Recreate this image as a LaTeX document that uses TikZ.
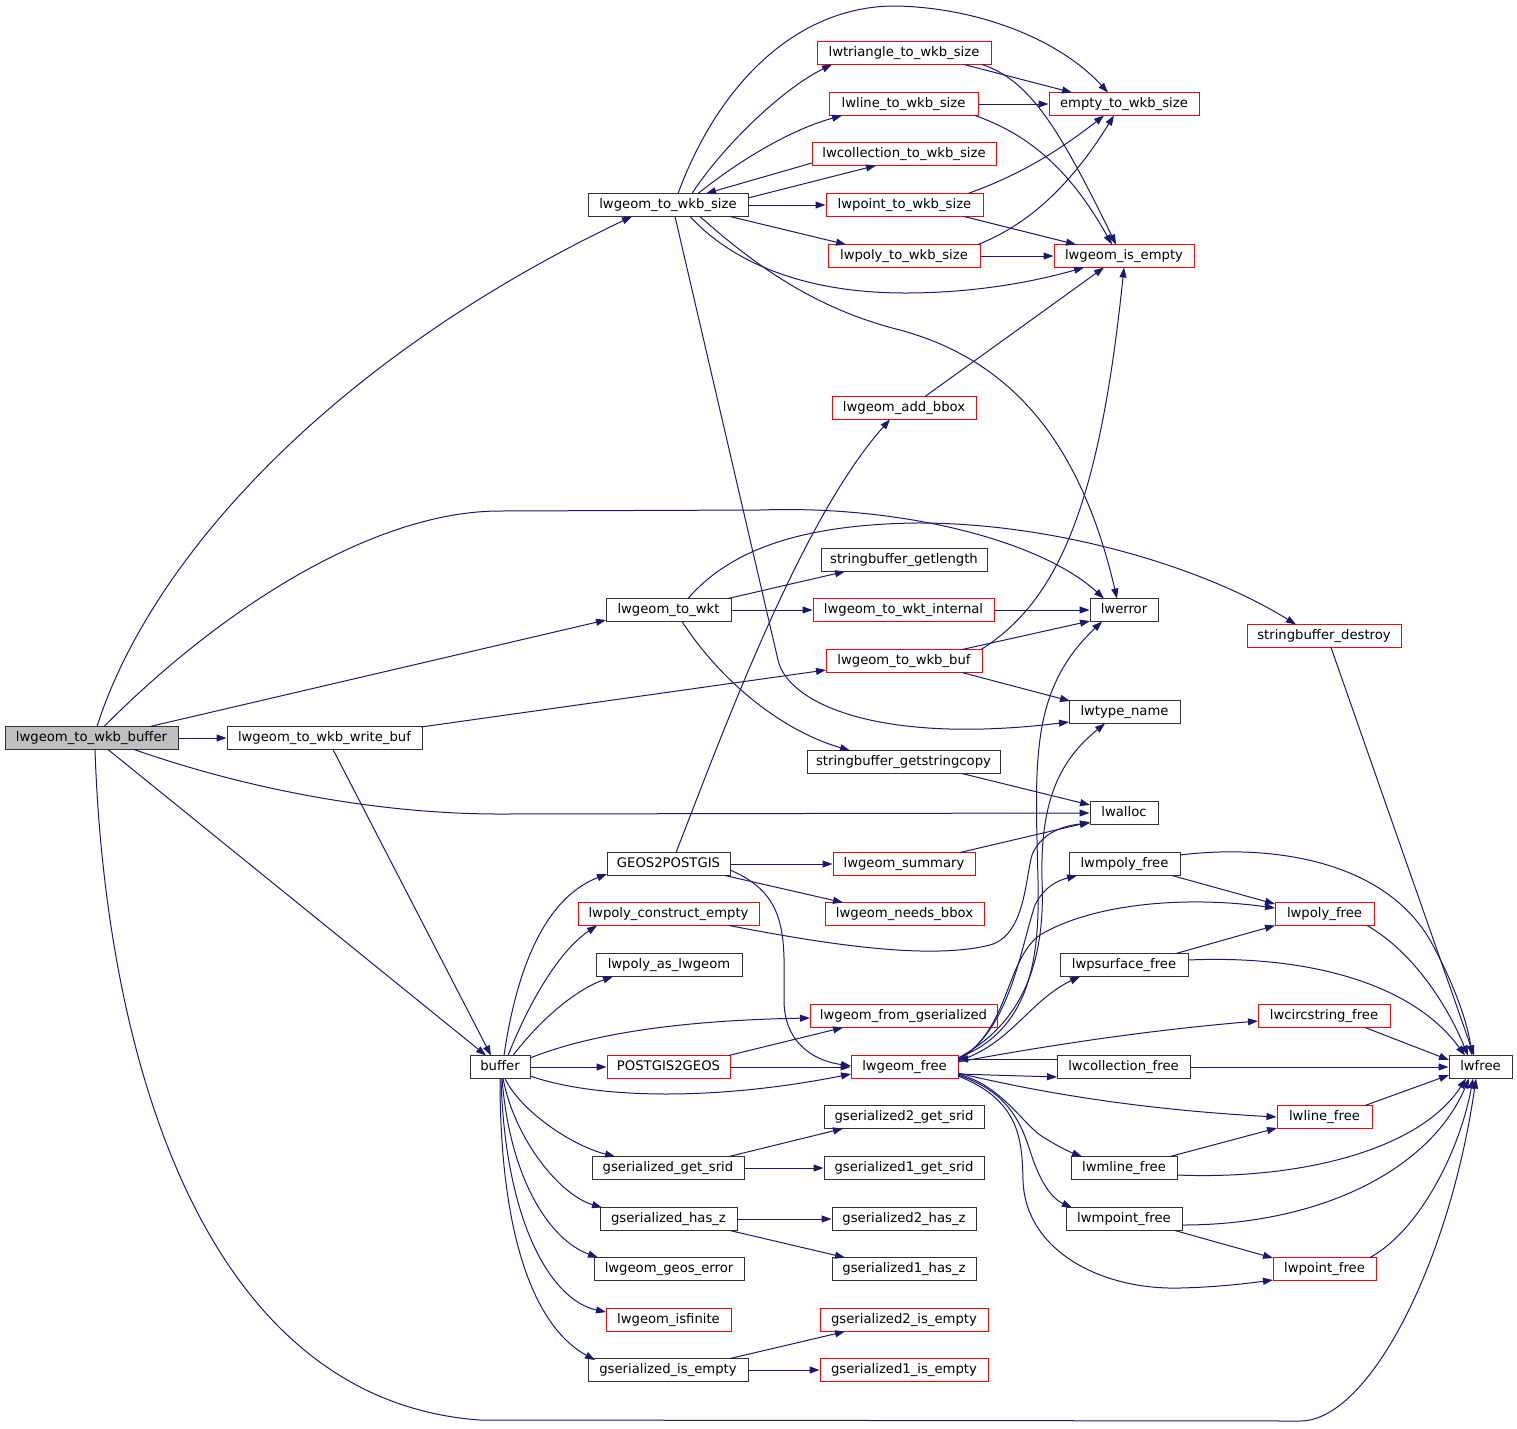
\documentclass[tikz,border=0pt]{standalone}
\usepackage{fontspec}
\setmainfont{DejaVu Sans}
\usetikzlibrary{arrows.meta,calc}
\definecolor{edgec}{HTML}{191970}
\definecolor{nodegray}{HTML}{BFBFBF}
\begin{document}
\begin{tikzpicture}[x=1pt,y=-1pt,
 nd/.style={draw=black!80, fill=white, line width=1pt, minimum height=23pt, inner sep=0pt, text height=10pt, text depth=3pt, font=\fontsize{13.2}{15}\selectfont},
 rd/.style={nd, draw=red},
 gd/.style={nd, fill=nodegray},
 ed/.style={draw=edgec, line width=1pt, -{Triangle[length=10pt,width=7pt]}}]
\useasboundingbox (0,0) rectangle (1517,1428);
% nodes
\node[gd,minimum width=173pt] (buf0) at (91.5,738) {lwgeom\_to\_wkb\_buffer};
\node[nd,minimum width=195pt] (wbuf) at (324.5,738) {lwgeom\_to\_wkb\_write\_buf};
\node[nd,minimum width=160pt] (wsize) at (668,205) {lwgeom\_to\_wkb\_size};
\node[nd,minimum width=125pt] (wkt) at (668.5,610) {lwgeom\_to\_wkt};
\node[nd,minimum width=60pt] (bufr) at (500,1067) {buffer};
\node[rd,minimum width=174pt] (tri) at (904,53) {lwtriangle\_to\_wkb\_size};
\node[rd,minimum width=149pt] (lline) at (903.5,104) {lwline\_to\_wkb\_size};
\node[rd,minimum width=184pt] (coll) at (904,154) {lwcollection\_to\_wkb\_size};
\node[rd,minimum width=157pt] (pt) at (904.5,205) {lwpoint\_to\_wkb\_size};
\node[rd,minimum width=152pt] (poly) at (904,256) {lwpoly\_to\_wkb\_size};
\node[rd,minimum width=150pt] (empty) at (1124,104) {empty\_to\_wkb\_size};
\node[rd,minimum width=140pt] (isempty) at (1124,256) {lwgeom\_is\_empty};
\node[rd,minimum width=144pt] (addbbox) at (904,408) {lwgeom\_add\_bbox};
\node[nd,minimum width=166pt] (sbgl) at (904,560) {stringbuffer\_getlength};
\node[rd,minimum width=181pt] (wktint) at (903.5,610) {lwgeom\_to\_wkt\_internal};
\node[rd,minimum width=156pt] (wkbbuf) at (904,661) {lwgeom\_to\_wkb\_buf};
\node[nd,minimum width=68pt] (lwerror) at (1124,610) {lwerror};
\node[rd,minimum width=154pt] (sbdestroy) at (1324,636) {stringbuffer\_destroy};
\node[nd,minimum width=111pt] (tname) at (1124.5,712) {lwtype\_name};
\node[nd,minimum width=193pt] (sbcopy) at (903.5,762) {stringbuffer\_getstringcopy};
\node[nd,minimum width=68pt] (lwalloc) at (1124,813) {lwalloc};
\node[nd,minimum width=123pt] (geos2pg) at (668.5,864) {GEOS2POSTGIS};
\node[rd,minimum width=142pt] (summary) at (904,864) {lwgeom\_summary};
\node[rd,minimum width=181pt] (pce) at (668.5,914) {lwpoly\_construct\_empty};
\node[rd,minimum width=159pt] (needsbbox) at (904.5,914) {lwgeom\_needs\_bbox};
\node[nd,minimum width=146pt] (polyas) at (669,965) {lwpoly\_as\_lwgeom};
\node[rd,minimum width=187pt] (fromgser) at (903.5,1016) {lwgeom\_from\_gserialized};
\node[rd,minimum width=123pt] (pg2geos) at (668.5,1067) {POSTGIS2GEOS};
\node[rd,minimum width=107pt] (gfree) at (904.5,1067) {lwgeom\_free};
\node[nd,minimum width=160pt] (g2srid) at (904,1117) {gserialized2\_get\_srid};
\node[nd,minimum width=152pt] (gsrid) at (668,1168) {gserialized\_get\_srid};
\node[nd,minimum width=160pt] (g1srid) at (904,1168) {gserialized1\_get\_srid};
\node[nd,minimum width=137pt] (ghasz) at (668.5,1219) {gserialized\_has\_z};
\node[nd,minimum width=144pt] (g2hasz) at (904,1219) {gserialized2\_has\_z};
\node[nd,minimum width=144pt] (g1hasz) at (904,1269) {gserialized1\_has\_z};
\node[nd,minimum width=150pt] (geoserr) at (669,1269) {lwgeom\_geos\_error};
\node[rd,minimum width=125pt] (isfinite) at (668.5,1320) {lwgeom\_isfinite};
\node[nd,minimum width=160pt] (gisempty) at (668,1370) {gserialized\_is\_empty};
\node[rd,minimum width=168pt] (g2isempty) at (904,1320) {gserialized2\_is\_empty};
\node[rd,minimum width=168pt] (g1isempty) at (904,1370) {gserialized1\_is\_empty};
\node[nd,minimum width=111pt] (mpolyfree) at (1124.5,864) {lwmpoly\_free};
\node[rd,minimum width=99pt] (polyfree) at (1324.5,914) {lwpoly\_free};
\node[nd,minimum width=128pt] (psurffree) at (1124,965) {lwpsurface\_free};
\node[rd,minimum width=132pt] (circfree) at (1324,1016) {lwcircstring\_free};
\node[nd,minimum width=133pt] (collfree) at (1123.5,1067) {lwcollection\_free};
\node[nd,minimum width=63pt] (lwfree) at (1480.5,1067) {lwfree};
\node[rd,minimum width=95pt] (linefree) at (1324.5,1117) {lwline\_free};
\node[nd,minimum width=106pt] (mlinefree) at (1124,1168) {lwmline\_free};
\node[nd,minimum width=116pt] (mpointfree) at (1124,1219) {lwmpoint\_free};
\node[rd,minimum width=103pt] (pointfree) at (1324.5,1269) {lwpoint\_free};
% edges from lwgeom_to_wkb_buffer
\draw[ed] ($(buf0)+(5.5,-11.5)$) .. controls (150,560) and (330,360) .. ($(wsize)+(-36,11.5)$);
\draw[ed] ($(buf0)+(12.5,-11.5)$) .. controls (230,600) and (380,511) .. (500,511) -- (760,510) .. controls (900,505) and (1040,540) .. ($(lwerror)+(-20,-11.5)$);
\draw[ed] ($(buf0)+(58.5,-11.5)$) -- ($(wkt)+(-62.5,10)$);
\draw[ed] (buf0.east) -- (wbuf.west);
\draw[ed] ($(buf0)+(42.5,11.5)$) .. controls (250,790) and (380,814) .. (500,814) -- (lwalloc.west);
\draw[ed] ($(buf0)+(16.5,11.5)$) -- ($(bufr)+(-14,-11.5)$);
\draw[ed] ($(buf0)+(3.5,11.5)$) .. controls (105,1050) and (200,1400) .. (480,1420) -- (1300,1421) .. controls (1370,1421) and (1450,1260) .. ($(lwfree)+(-4.5,11.5)$);
% lwgeom_to_wkb_write_buf
\draw[ed] ($(wbuf)+(96.5,-11)$) -- ($(wkbbuf)+(-78,9)$);
\draw[ed] ($(wbuf)+(8.5,11.5)$) -- ($(bufr)+(-9,-11.5)$);
% lwgeom_to_wkb_size
\draw[ed] ($(wsize)+(24,-11.5)$) .. controls (720,150) and (780,90) .. ($(tri)+(-72,11.5)$);
\draw[ed] ($(wsize)+(10,-11.5)$) .. controls (720,80) and (800,5) .. (897,6) .. controls (980,8) and (1060,40) .. ($(empty)+(-16,-11.5)$);
\draw[ed] ($(wsize)+(30,-11.5)$) .. controls (740,160) and (790,130) .. ($(lline)+(-61.5,11.5)$);
\draw[ed] ($(coll)+(-92,9)$) -- ($(wsize)+(38,-11.5)$);
\draw[ed] ($(wsize)+(80,-7)$) -- ($(coll)+(-28,11.5)$);
\draw[ed] (wsize.east) -- (pt.west);
\draw[ed] ($(wsize)+(62,11.5)$) -- ($(poly)+(-58,-11.5)$);
\draw[ed] ($(wsize)+(22,11.5)$) .. controls (730,260) and (800,293) .. (905,293) .. controls (980,293) and (1040,280) .. ($(isempty)+(-40,11.5)$);
\draw[ed] ($(wsize)+(32,11.5)$) .. controls (760,270) and (820,310) .. (900,330) .. controls (1010,360) and (1080,440) .. ($(lwerror)+(-7,-11.5)$);
\draw[ed] ($(wsize)+(7,11.5)$) -- (778,660) .. controls (788,704) and (880,745) .. ($(tname)+(-55.5,10)$);
% size helpers
\draw[ed] ($(tri)+(60,11.5)$) -- ($(empty)+(-52,-11.5)$);
\draw[ed] ($(tri)+(78,11.5)$) .. controls (1030,80) and (1060,130) .. ($(isempty)+(-8,-11.5)$);
\draw[ed] (lline.east) -- (empty.west);
\draw[ed] ($(lline)+(71.5,11.5)$) .. controls (1030,135) and (1070,170) .. ($(isempty)+(-12,-11.5)$);
\draw[ed] ($(pt)+(63.5,-11.5)$) .. controls (1020,175) and (1060,150) .. ($(empty)+(-20,11.5)$);
\draw[ed] ($(pt)+(59.5,11.5)$) -- ($(isempty)+(-48,-11.5)$);
\draw[ed] ($(poly)+(74,-11.5)$) .. controls (1040,220) and (1080,170) .. ($(empty)+(-10,11.5)$);
\draw[ed] (poly.east) -- (isempty.west);
\draw[ed] ($(addbbox)+(21,-11.5)$) -- ($(isempty)+(-20,11.5)$);
% wkb buf
\draw[ed] ($(wkbbuf)+(77,-11.5)$) .. controls (1060,600) and (1100,500) .. ($(isempty)+(0,11.5)$);
\draw[ed] ($(wkbbuf)+(58,-11.5)$) -- ($(lwerror)+(-34,11)$);
\draw[ed] ($(wkbbuf)+(58,11.5)$) -- ($(tname)+(-54.5,-11)$);
\draw[ed] (wktint.east) -- (lwerror.west);
% lwgeom_to_wkt
\draw[ed] ($(wkt)+(59.5,-11.5)$) -- ($(sbgl)+(-59,11.5)$);
\draw[ed] (wkt.east) -- (wktint.west);
\draw[ed] ($(wkt)+(19.5,-11.5)$) .. controls (730,550) and (800,525) .. (914,523) .. controls (1050,522) and (1200,565) .. ($(sbdestroy)+(-28,-11.5)$);
\draw[ed] ($(wkt)+(13.5,11.5)$) .. controls (720,680) and (780,730) .. ($(sbcopy)+(-53.5,-11.5)$);
\draw[ed] ($(sbcopy)+(58.5,11.5)$) -- ($(lwalloc)+(-34,-8)$);
\draw[ed] ($(sbdestroy)+(7,11.5)$) -- ($(lwfree)+(-6.5,-11.5)$);
% GEOS2POSTGIS etc
\draw[ed] ($(summary)+(56,-11.5)$) -- ($(lwalloc)+(-34,9)$);
\draw[ed] ($(pce)+(60.5,11.5)$) .. controls (830,945) and (930,960) .. (990,945) .. controls (1025,935) and (1025,880) .. (1032,855) .. controls (1040,835) and (1060,826) .. ($(lwalloc)+(-34,10)$);
\draw[ed] ($(geos2pg)+(7.5,-11.5)$) .. controls (720,740) and (800,520) .. ($(addbbox)+(-14,11.5)$);
\draw[ed] (geos2pg.east) -- (summary.west);
\draw[ed] ($(geos2pg)+(56.5,11.5)$) -- ($(needsbbox)+(-61.5,-11.5)$);
\draw[ed] ($(geos2pg)+(61.5,6)$) .. controls (790,895) and (784,940) .. (784,1000) .. controls (784,1040) and (810,1060) .. ($(gfree)+(-53.5,-1)$);
% buffer
\draw[ed] ($(bufr)+(4,-11.5)$) .. controls (515,980) and (540,900) .. ($(geos2pg)+(-61.5,10)$);
\draw[ed] ($(bufr)+(8,-11.5)$) .. controls (530,1000) and (560,950) .. ($(pce)+(-71.5,11.5)$);
\draw[ed] ($(bufr)+(13,-11.5)$) .. controls (540,1020) and (575,990) .. ($(polyas)+(-56,11.5)$);
\draw[ed] ($(bufr)+(30,-9)$) .. controls (600,1030) and (700,1020) .. ($(fromgser)+(-93.5,2)$);
\draw[ed] (bufr.east) -- (pg2geos.west);
\draw[ed] ($(bufr)+(30,9)$) .. controls (600,1100) and (720,1100) .. ($(gfree)+(-53.5,7)$);
\draw[ed] ($(pg2geos)+(60,-11.5)$) -- ($(fromgser)+(-60.5,11.5)$);
\draw[ed] (pg2geos.east) -- (gfree.west);
\draw[ed] ($(bufr)+(5,11.5)$) .. controls (520,1110) and (570,1145) .. ($(gsrid)+(-53,-11.5)$);
\draw[ed] ($(bufr)+(3,11.5)$) .. controls (515,1140) and (560,1195) .. ($(ghasz)+(-66.5,-11.5)$);
\draw[ed] ($(bufr)+(2,11.5)$) .. controls (510,1180) and (550,1240) .. ($(geoserr)+(-71,-11.5)$);
\draw[ed] ($(bufr)+(1,11.5)$) .. controls (505,1220) and (550,1300) .. ($(isfinite)+(-62.5,-8)$);
\draw[ed] ($(bufr)+(0,11.5)$) .. controls (500,1250) and (540,1330) .. ($(gisempty)+(-73,-10)$);
% gserialized
\draw[ed] ($(gsrid)+(61,-11.5)$) -- ($(g2srid)+(-61,11.5)$);
\draw[ed] (gsrid.east) -- (g1srid.west);
\draw[ed] (ghasz.east) -- (g2hasz.west);
\draw[ed] ($(ghasz)+(61.5,11.5)$) -- ($(g1hasz)+(-59,-11.5)$);
\draw[ed] ($(gisempty)+(62,-11.5)$) -- ($(g2isempty)+(-59,11.5)$);
\draw[ed] (gisempty.east) -- (g1isempty.west);
% lwgeom_free
\draw[ed] ($(gfree)+(53.5,-7)$) .. controls (1010,1030) and (1020,950) .. (1035,905) .. controls (1045,885) and (1060,880) .. ($(mpolyfree)+(-47.5,11.5)$);
\draw[ed] ($(gfree)+(53.5,-7)$) .. controls (1010,1030) and (1005,960) .. (1040,935) .. controls (1090,905) and (1180,895) .. ($(polyfree)+(-49.5,-6)$);
\draw[ed] ($(gfree)+(53.5,-6)$) .. controls (1010,1045) and (1030,1000) .. ($(psurffree)+(-44,11.5)$);
\draw[ed] ($(gfree)+(53.5,-5)$) .. controls (1050,1045) and (1150,1030) .. ($(circfree)+(-66,5)$);
\draw[ed] ($(collfree)+(-66.5,-8)$) -- ($(gfree)+(53.5,-8)$);
\draw[ed] ($(gfree)+(53.5,7)$) -- ($(collfree)+(-66.5,10)$);
\draw[ed] ($(gfree)+(53.5,6)$) .. controls (1050,1095) and (1150,1110) .. (linefree.west);
\draw[ed] ($(gfree)+(53.5,7)$) .. controls (1000,1085) and (1020,1120) .. (1040,1135) .. controls (1055,1145) and (1070,1152) .. ($(mlinefree)+(-42,-11.5)$);
\draw[ed] ($(gfree)+(53.5,8)$) .. controls (1020,1095) and (1025,1140) .. (1035,1165) .. controls (1045,1190) and (1055,1200) .. ($(mpointfree)+(-52,-11.5)$);
\draw[ed] ($(gfree)+(53.5,9)$) .. controls (1020,1100) and (1022,1140) .. (1023,1180) .. controls (1025,1250) and (1100,1290) .. (1180,1288) .. controls (1220,1287) and (1250,1283) .. ($(pointfree)+(-51.5,11)$);
\draw[ed] ($(gfree)+(53.5,-9)$) .. controls (1030,1030) and (1040,960) .. (1038,880) .. controls (1035,760) and (1030,690) .. ($(lwerror)+(-22,11.5)$);
\draw[ed] ($(gfree)+(53.5,-9)$) .. controls (1030,1020) and (1045,950) .. (1042,880) .. controls (1040,800) and (1060,760) .. ($(tname)+(-19.5,11.5)$);
% free functions
\draw[ed] ($(mpolyfree)+(47.5,11.5)$) -- ($(polyfree)+(-49.5,-10)$);
\draw[ed] ($(mpolyfree)+(55.5,-9)$) .. controls (1260,845) and (1380,855) .. (1430,940) .. controls (1455,985) and (1468,1025) .. ($(lwfree)+(-8.5,-11.5)$);
\draw[ed] ($(psurffree)+(52,-11.5)$) -- ($(polyfree)+(-49.5,11.5)$);
\draw[ed] ($(psurffree)+(64,-5)$) .. controls (1300,955) and (1410,980) .. ($(lwfree)+(-15.5,-11.5)$);
\draw[ed] ($(polyfree)+(42.5,11.5)$) .. controls (1410,950) and (1445,1000) .. ($(lwfree)+(-12.5,-11.5)$);
\draw[ed] ($(circfree)+(41,11.5)$) -- ($(lwfree)+(-31.5,-7)$);
\draw[ed] (collfree.east) -- (lwfree.west);
\draw[ed] ($(linefree)+(40.5,-11.5)$) -- ($(lwfree)+(-31.5,8)$);
\draw[ed] ($(mlinefree)+(46,-11.5)$) -- ($(linefree)+(-47.5,11)$);
\draw[ed] ($(mlinefree)+(53,7)$) .. controls (1300,1180) and (1420,1150) .. ($(lwfree)+(-14.5,11.5)$);
\draw[ed] ($(mpointfree)+(51,11.5)$) -- ($(pointfree)+(-51.5,-11)$);
\draw[ed] ($(mpointfree)+(58,6)$) .. controls (1320,1225) and (1430,1170) .. ($(lwfree)+(-11.5,11.5)$);
\draw[ed] ($(pointfree)+(45.5,-11.5)$) .. controls (1420,1230) and (1460,1150) .. ($(lwfree)+(-7.5,11.5)$);
\end{tikzpicture}
\end{document}
